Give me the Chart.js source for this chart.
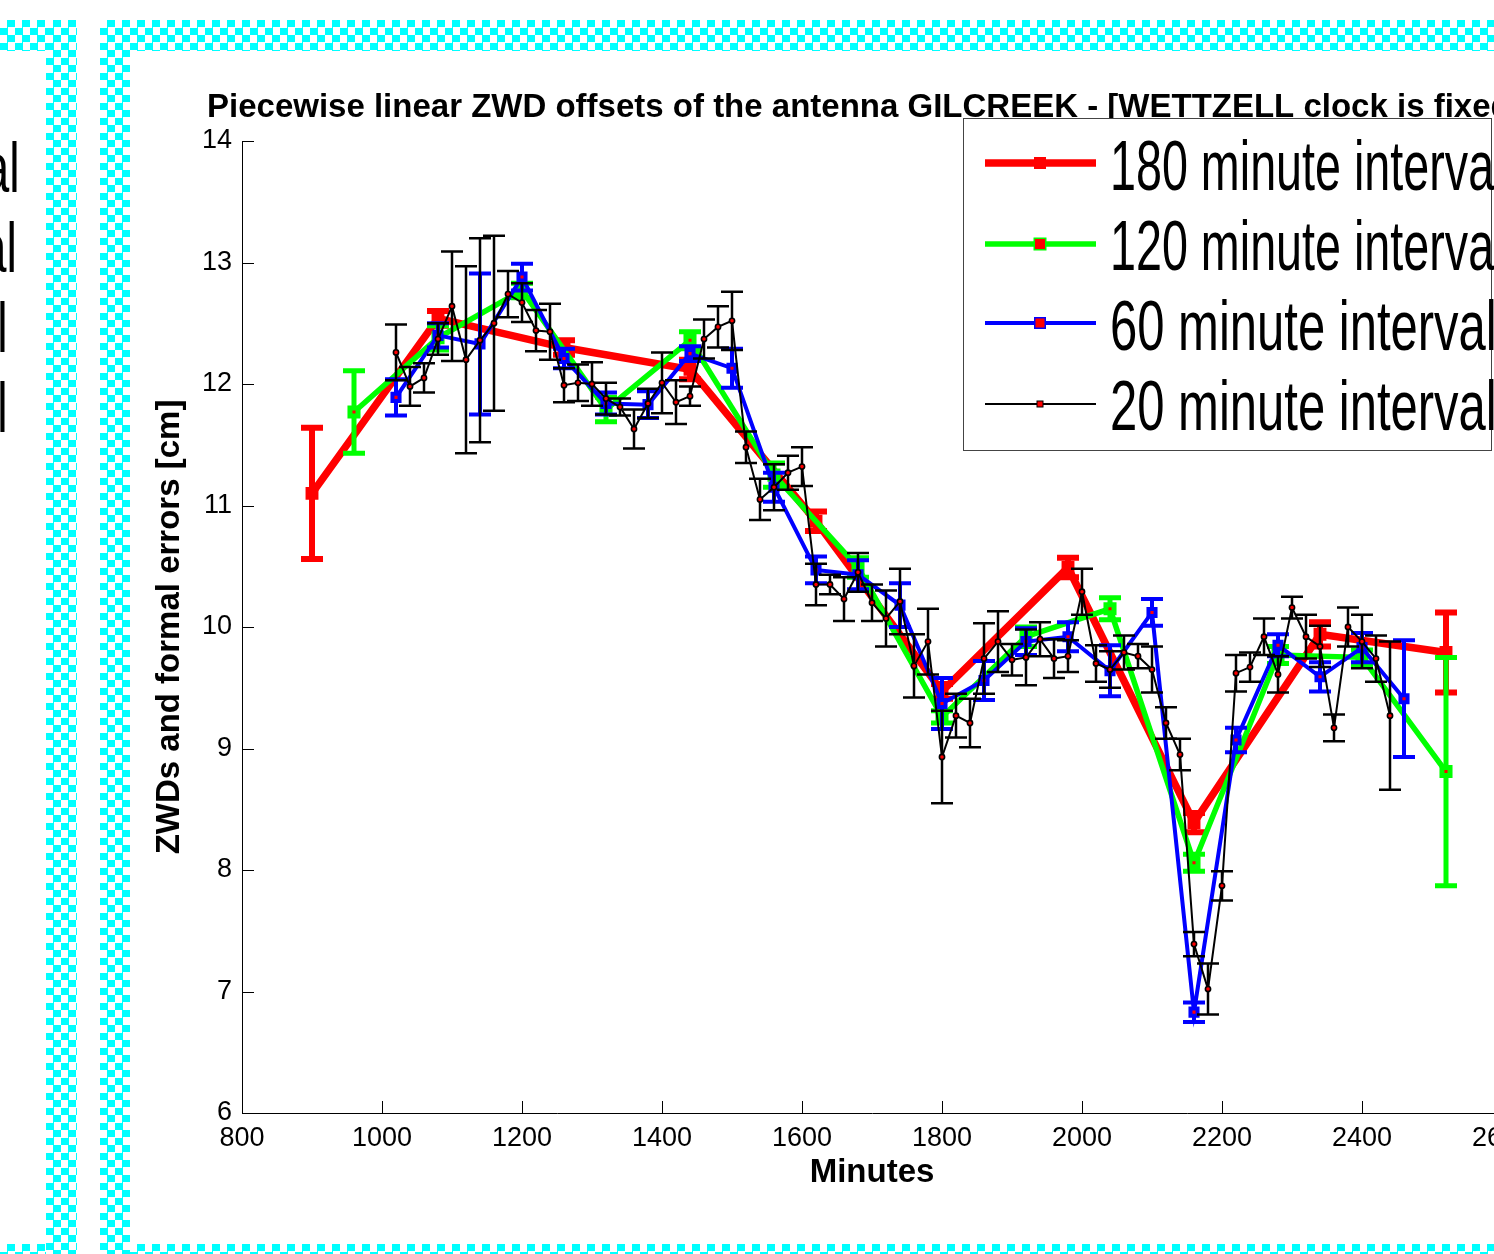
<!DOCTYPE html>
<html><head><meta charset="utf-8">
<script src="https://cdn.jsdelivr.net/npm/chart.js@4.4.1/dist/chart.umd.min.js"></script>
<style>
html,body{margin:0;padding:0;background:#fff;overflow:hidden;width:1494px;height:1254px;}
#wrap{position:relative;width:1494px;height:1254px;overflow:hidden;background:#fff;}
#c{position:absolute;left:0;top:0;}
.chk{position:absolute;background-color:#fff;background-image:repeating-conic-gradient(#00ffff 0% 25%, #ffffff 0% 50%);background-size:15px 15px;z-index:2;}
</style></head><body>
<div id="wrap">
<canvas id="c" width="1560" height="1254" style="width:1560px;height:1254px"></canvas>
<div class="chk" style="left:0;top:20px;width:77px;height:31px"></div>
<div class="chk" style="left:46px;top:20px;width:31px;height:1234px"></div>
<div class="chk" style="left:100px;top:20px;width:1394px;height:31px"></div>
<div class="chk" style="left:100px;top:20px;width:30px;height:1234px"></div>
<div class="chk" style="left:0;top:1244px;width:46px;height:10px"></div>
<div class="chk" style="left:130px;top:1244px;width:1364px;height:10px"></div>
</div>
<script>
// ---- data (minutes, ZWD [cm], formal error [cm]) ----
const minutes180 = [900, 1080, 1260, 1440, 1620, 1800, 1980, 2160, 2340, 2520];
const zwd180 = [11.10, 12.54, 12.30, 12.12, 10.87, 9.47, 10.49, 8.39, 9.94, 9.79];
const err180 = [0.54, 0.06, 0.06, 0.08, 0.08, 0.06, 0.08, 0.08, 0.10, 0.33];

const minutes120 = [960, 1080, 1200, 1320, 1440, 1560, 1680, 1800, 1920, 2040, 2160, 2280, 2400, 2520];
const zwd120 = [11.77, 12.38, 12.77, 11.79, 12.36, 11.25, 10.49, 9.26, 9.92, 10.15, 8.06, 9.77, 9.75, 8.81];
const err120 = [0.34, 0.10, 0.06, 0.10, 0.07, 0.10, 0.08, 0.05, 0.08, 0.09, 0.07, 0.07, 0.06, 0.94];

const minutes60 = [1020, 1080, 1140, 1200, 1260, 1320, 1380, 1440, 1500, 1560, 1620, 1680, 1740,
  1800, 1860, 1920, 1980, 2040, 2100, 2160, 2220, 2280, 2340, 2400, 2460];
const zwd60 = [11.89, 12.40, 12.33, 12.88, 12.21, 11.84, 11.83, 12.25, 12.13, 11.15, 10.47, 10.43, 10.18,
  9.37, 9.56, 9.88, 9.92, 9.64, 10.12, 6.83, 9.07, 9.85, 9.59, 9.83, 9.41];
const err60 = [0.15, 0.10, 0.58, 0.11, 0.08, 0.09, 0.11, 0.06, 0.16, 0.12, 0.11, 0.12, 0.18,
  0.21, 0.16, 0.11, 0.12, 0.21, 0.11, 0.08, 0.10, 0.09, 0.12, 0.12, 0.48];

const minutes20 = [1020, 1040, 1060, 1080, 1100, 1120, 1140, 1160, 1180, 1200, 1220, 1240, 1260, 1280,
  1300, 1320, 1340, 1360, 1380, 1400, 1420, 1440, 1460, 1480, 1500, 1520, 1540, 1560, 1580, 1600,
  1620, 1640, 1660, 1680, 1700, 1720, 1740, 1760, 1780, 1800, 1820, 1840, 1860, 1880, 1900, 1920,
  1940, 1960, 1980, 2000, 2020, 2040, 2060, 2080, 2100, 2120, 2140, 2160, 2180, 2200, 2220, 2240,
  2260, 2280, 2300, 2320, 2340, 2360, 2380, 2400, 2420, 2440];
const zwd20 = [12.26, 11.98, 12.05, 12.37, 12.64, 12.20, 12.36, 12.50, 12.74, 12.67, 12.44, 12.43, 11.99, 12.01,
  12.00, 11.88, 11.81, 11.63, 11.84, 12.01, 11.85, 11.90, 12.37, 12.47, 12.52, 11.48, 11.05, 11.15, 11.27, 11.32,
  10.35, 10.35, 10.23, 10.45, 10.20, 10.07, 10.21, 9.68, 9.88, 8.93, 9.27, 9.21, 9.74, 9.88, 9.73, 9.75,
  9.90, 9.74, 9.76, 10.29, 9.70, 9.65, 9.79, 9.76, 9.65, 9.21, 8.95, 7.39, 7.02, 7.87, 9.62, 9.67,
  9.92, 9.61, 10.16, 9.92, 9.84, 9.17, 10.00, 9.88, 9.74, 9.27];
const err20 = [0.23, 0.16, 0.12, 0.13, 0.45, 0.77, 0.84, 0.72, 0.19, 0.16, 0.17, 0.23, 0.14, 0.15,
  0.18, 0.13, 0.07, 0.16, 0.12, 0.25, 0.18, 0.08, 0.16, 0.17, 0.24, 0.13, 0.17, 0.19, 0.14, 0.16,
  0.17, 0.08, 0.18, 0.16, 0.15, 0.23, 0.27, 0.26, 0.27, 0.38, 0.18, 0.20, 0.29, 0.25, 0.13, 0.23,
  0.14, 0.16, 0.13, 0.19, 0.15, 0.15, 0.14, 0.10, 0.19, 0.13, 0.13, 0.10, 0.21, 0.12, 0.15, 0.12,
  0.15, 0.15, 0.09, 0.18, 0.17, 0.11, 0.16, 0.22, 0.19, 0.61];

const seriesLabels = ['180 minute interval', '120 minute interval', '60 minute interval', '20 minute interval'];
const titleText = 'Piecewise linear ZWD offsets of the antenna GILCREEK - [WETTZELL clock is fixed]';
const xTitle = 'Minutes';
const yTitle = 'ZWDs and formal errors [cm]';
const xRange = [800, 2600], xStep = 200;
const yRange = [6, 14], yStep = 1;

const pts = (xs, ys) => xs.map((x, i) => ({x: x, y: ys[i]}));
const FONT = '"Liberation Sans", Arial, Helvetica, sans-serif';

const errorBarPlugin = {
  id: 'errorBars',
  beforeDatasetDraw(chart, args) {
    const ds = chart.data.datasets[args.index];
    if (!ds.errors) return;
    const xs = chart.scales.x, ys = chart.scales.y, ctx = chart.ctx;
    const cap = 11;
    ctx.save();
    ctx.strokeStyle = ds.borderColor;
    ctx.lineWidth = ds.errorWidth;
    ctx.lineCap = 'butt';
    ds.data.forEach((p, i) => {
      const px = xs.getPixelForValue(p.x);
      const t = ys.getPixelForValue(p.y + ds.errors[i]);
      const b = ys.getPixelForValue(p.y - ds.errors[i]);
      ctx.beginPath();
      ctx.moveTo(px, t); ctx.lineTo(px, b);
      ctx.moveTo(px - cap, t); ctx.lineTo(px + cap, t);
      ctx.moveTo(px - cap, b); ctx.lineTo(px + cap, b);
      ctx.stroke();
    });
    ctx.restore();
  }
};

const insideTicks = {
  id: 'insideTicks',
  beforeDatasetsDraw(chart) {
    const ctx = chart.ctx, xs = chart.scales.x, ys = chart.scales.y, a = chart.chartArea;
    ctx.save();
    ctx.strokeStyle = '#000'; ctx.lineWidth = 1;
    ctx.beginPath();
    ys.ticks.forEach(t => {
      const py = Math.round(ys.getPixelForValue(t.value)) + 0.5;
      ctx.moveTo(a.left, py); ctx.lineTo(a.left + 12, py);
    });
    xs.ticks.forEach(t => {
      const px = Math.round(xs.getPixelForValue(t.value)) + 0.5;
      ctx.moveTo(px, a.bottom); ctx.lineTo(px, a.bottom - 12);
    });
    ctx.stroke();
    ctx.restore();
  }
};

// plot title, drawn left-anchored at the axes like the original (no width squeeze)
const plotTitle = {
  id: 'plotTitle',
  afterDraw(chart, args, opts) {
    const ctx = chart.ctx;
    ctx.save();
    ctx.fillStyle = '#000';
    ctx.font = 'bold 33px ' + FONT;
    ctx.textAlign = 'left'; ctx.textBaseline = 'alphabetic';
    ctx.fillText(opts.text, 207, 117);
    ctx.restore();
  }
};

const legendMarks = [
  {size: 12, edge: 0},
  {size: 10, edge: 1.5},
  {size: 9, edge: 1.5},
  {size: 5, edge: 1}
];

const customLegend = {
  id: 'customLegend',
  afterDraw(chart) {
    const ctx = chart.ctx;
    ctx.save();
    ctx.fillStyle = '#fff';
    ctx.fillRect(963, 118, 528, 332);
    ctx.strokeStyle = '#444'; ctx.lineWidth = 1;
    ctx.strokeRect(963.5, 118.5, 528, 332);
    const lineYs = [163, 244, 323, 404];
    const baseYs = [190, 270, 350, 430];
    const xScale = [0.667, 0.667, 0.70, 0.70];
    chart.data.datasets.slice().sort((p, q) => p.legendIndex - q.legendIndex).forEach((ds, k) => {
      const y = lineYs[k];
      ctx.strokeStyle = ds.borderColor; ctx.lineWidth = ds.borderWidth;
      ctx.beginPath(); ctx.moveTo(985, y); ctx.lineTo(1096, y); ctx.stroke();
      const m = legendMarks[k];
      ctx.fillStyle = ds.borderColor;
      ctx.fillRect(1040 - m.size / 2 - m.edge, y - m.size / 2 - m.edge, m.size + 2 * m.edge, m.size + 2 * m.edge);
      ctx.fillStyle = '#ff0000';
      ctx.fillRect(1040 - m.size / 2, y - m.size / 2, m.size, m.size);
      ctx.save();
      ctx.translate(1110, baseYs[k]);
      ctx.scale(xScale[k], 1);
      ctx.fillStyle = '#000';
      ctx.font = '70px ' + FONT;
      ctx.textAlign = 'left'; ctx.textBaseline = 'alphabetic';
      ctx.fillText(ds.label, 0, 0);
      ctx.restore();
    });
    // fragments of the neighbouring panel's legend
    const fragRight = [19.5, 16.8, 7.5, 7.5];
    const fragBase = [192, 272, 352, 432];
    seriesLabels.forEach((s, k) => {
      ctx.save();
      ctx.translate(fragRight[k], fragBase[k]);
      ctx.scale(0.667, 1);
      ctx.fillStyle = '#000';
      ctx.font = '70px ' + FONT;
      ctx.textAlign = 'right'; ctx.textBaseline = 'alphabetic';
      ctx.fillText(s, 0, 0);
      ctx.restore();
    });
    ctx.restore();
  }
};

const chart = new Chart(document.getElementById('c'), {
  type: 'line',
  data: {
    datasets: [
      {label: seriesLabels[3], legendIndex: 3, order: 0, data: pts(minutes20, zwd20), errors: err20,
        borderColor: '#000000', borderWidth: 2, errorWidth: 2.5,
        pointStyle: 'circle', pointRadius: 2.6, pointBackgroundColor: '#ff0000',
        pointBorderColor: '#000000', pointBorderWidth: 1.6},
      {label: seriesLabels[2], legendIndex: 2, order: 1, data: pts(minutes60, zwd60), errors: err60,
        borderColor: '#0000ff', borderWidth: 4, errorWidth: 4,
        pointStyle: 'rect', pointRadius: 5, pointBackgroundColor: '#ff0000',
        pointBorderColor: '#0000ff', pointBorderWidth: 4},
      {label: seriesLabels[1], legendIndex: 1, order: 2, data: pts(minutes120, zwd120), errors: err120,
        borderColor: '#00ff00', borderWidth: 5.5, errorWidth: 5,
        pointStyle: 'rect', pointRadius: 5.7, pointBackgroundColor: '#ff0000',
        pointBorderColor: '#00ff00', pointBorderWidth: 5},
      {label: seriesLabels[0], legendIndex: 0, order: 3, data: pts(minutes180, zwd180), errors: err180,
        borderColor: '#ff0000', borderWidth: 7.5, errorWidth: 6,
        pointStyle: 'rect', pointRadius: 7, pointBackgroundColor: '#ff0000',
        pointBorderColor: '#ff0000', pointBorderWidth: 3}
    ]
  },
  options: {
    responsive: false,
    animation: false,
    devicePixelRatio: 1,
    layout: {padding: {left: 150, right: 58, top: 141, bottom: 61}},
    elements: {line: {tension: 0}},
    plugins: {
      legend: {display: false},
      tooltip: {enabled: false},
      title: {display: false},
      plotTitle: {text: titleText}
    },
    scales: {
      x: {
        type: 'linear', min: xRange[0], max: xRange[1],
        afterFit(s) { s.height = 80; },
        ticks: {stepSize: xStep, autoSkip: false, maxRotation: 0, padding: 9, color: '#000',
          font: {family: FONT, size: 27}, callback: v => String(v)},
        grid: {drawOnChartArea: false, drawTicks: false},
        border: {display: true, color: '#000', width: 1},
        title: {display: true, text: xTitle, color: '#000', padding: {top: 0, bottom: 0},
          font: {family: FONT, size: 33, weight: 'bold', lineHeight: 1.2}}
      },
      y: {
        type: 'linear', min: yRange[0], max: yRange[1],
        afterFit(s) { s.width = 92; },
        ticks: {stepSize: yStep, padding: 10, color: '#000', font: {family: FONT, size: 27},
          callback: v => String(v)},
        grid: {drawOnChartArea: false, drawTicks: false},
        border: {display: true, color: '#000', width: 1},
        title: {display: true, text: yTitle, color: '#000', padding: {top: 0, bottom: 0},
          font: {family: FONT, size: 33, weight: 'bold', lineHeight: 1.2}}
      }
    }
  },
  plugins: [errorBarPlugin, insideTicks, plotTitle, customLegend]
});
</script>
</body></html>
